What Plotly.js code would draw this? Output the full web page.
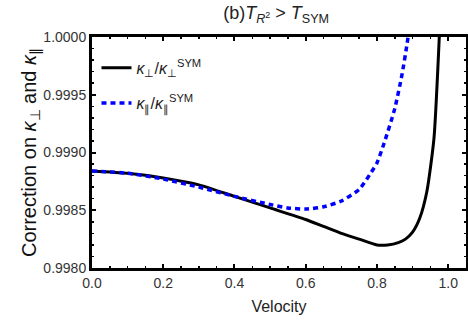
<!DOCTYPE html>
<html>
<head>
<meta charset="utf-8">
<script src="https://cdn.plot.ly/plotly-3.0.1.min.js"></script>
<style>
  body { margin: 0; padding: 0; background: #fff; }
  #myPlot { width: 468px; height: 321px; }
</style>
</head>
<body>
<div id="myPlot"></div>
<script>
// velocity grid and the two correction curves
let velocityPerp = [0, 0.1, 0.2, 0.3, 0.4, 0.5, 0.6, 0.65, 0.7, 0.75, 0.8, 0.83, 0.86, 0.88, 0.9, 0.92, 0.94, 0.96, 0.975, 0.99];
let kappaPerp = [0.99884, 0.99882, 0.99878, 0.99872, 0.99862, 0.99852, 0.99842, 0.99836, 0.99830, 0.99825, 0.99820, 0.99820, 0.99822, 0.99825, 0.99831, 0.99843, 0.99866, 0.99912, 1.0000, 1.0012];

let velocityPar = [0, 0.1, 0.2, 0.3, 0.4, 0.5, 0.55, 0.6, 0.65, 0.7, 0.75, 0.78, 0.8, 0.82, 0.85, 0.87, 0.885, 0.9];
let kappaPar = [0.99884, 0.99882, 0.99877, 0.99870, 0.99862, 0.99855, 0.99852, 0.99851, 0.99853, 0.99858, 0.99868, 0.99881, 0.99891, 0.99908, 0.99938, 0.99967, 0.99995, 1.0003];

let xTicks = [0, 0.2, 0.4, 0.6, 0.8, 1.0];
let yTicks = [0.9980, 0.9985, 0.9990, 0.9995, 1.0000];

let tickFont = { family: 'Liberation Sans, Arial, sans-serif', size: 14, color: '#333' };
let legendFont = { family: 'Liberation Sans, Arial, sans-serif', size: 16, color: '#222' };

function renderChart() {

    // solid black: perpendicular
    const tracePerp = {
        x: velocityPerp,
        y: kappaPerp,
        mode: 'lines',
        type: 'scatter',
        line: { color: '#000', width: 3, shape: 'spline', smoothing: 0.6 },
        name: '<i>κ</i><sub>⊥</sub>/<i>κ</i><sub>⊥</sub><sup>SYM</sup>',
        legend: 'legend'
    };

    // dashed blue: parallel
    const tracePar = {
        x: velocityPar,
        y: kappaPar,
        mode: 'lines',
        type: 'scatter',
        line: { color: '#0000ff', width: 3.5, dash: '5px,4px', shape: 'spline', smoothing: 0.6 },
        name: '<i>κ</i><sub>∥</sub>/<i>κ</i><sub>∥</sub><sup>SYM</sup>',
        legend: 'legend2'
    };

    const layout = {
        width: 468,
        height: 321,
        margin: { l: 92, r: 2, t: 37, b: 53 },
        paper_bgcolor: '#fff',
        plot_bgcolor: '#fff',
        font: { family: 'Liberation Sans, Arial, sans-serif', color: '#000' },
        title: {
            text: '(b)<i>T</i><sub><i>R</i><sup>2</sup></sub> > <i>T</i><sub>SYM</sub>',
            font: { size: 18, color: '#222' },
            x: 0.59, xanchor: 'center',
            y: 0.96, yanchor: 'middle'
        },
        showlegend: true,
        legend: {
            x: 0.012, y: 0.866, xanchor: 'left', yanchor: 'middle',
            bgcolor: 'rgba(0,0,0,0)',
            font: legendFont,
            itemwidth: 30
        },
        legend2: {
            x: 0.012, y: 0.714, xanchor: 'left', yanchor: 'middle',
            bgcolor: 'rgba(0,0,0,0)',
            font: legendFont,
            itemwidth: 30
        },
        xaxis: {
            range: [0, 1.05],
            tickvals: xTicks,
            tickformat: '.1f',
            ticks: 'inside',
            ticklen: 4,
            tickwidth: 2,
            tickcolor: '#000',
            minor: { dtick: 0.05, ticks: 'inside', ticklen: 2, tickwidth: 1.5, tickcolor: '#000' },
            showline: true,
            linewidth: 3,
            linecolor: '#000',
            mirror: 'allticks',
            showgrid: false,
            zeroline: false,
            tickfont: tickFont,
            title: { text: 'Velocity', font: { size: 16, color: '#222' }, standoff: 12 }
        },
        yaxis: {
            range: [0.9980, 1.0000],
            tickvals: yTicks,
            tickformat: '.4f',
            ticks: 'inside',
            ticklen: 4,
            tickwidth: 2,
            tickcolor: '#000',
            minor: { dtick: 0.0001, ticks: 'inside', ticklen: 2, tickwidth: 1.5, tickcolor: '#000' },
            showline: true,
            linewidth: 3,
            linecolor: '#000',
            mirror: 'allticks',
            showgrid: false,
            zeroline: false,
            tickfont: tickFont,
            title: {
                text: 'Correction on <i>κ</i><sub>⊥</sub> and <i>κ</i><sub>∥</sub>',
                font: { size: 20, color: '#111' },
                standoff: 2
            }
        }
    };

    Plotly.newPlot('myPlot', [tracePerp, tracePar], layout, { staticPlot: true });
}

renderChart();
</script>
</body>
</html>
